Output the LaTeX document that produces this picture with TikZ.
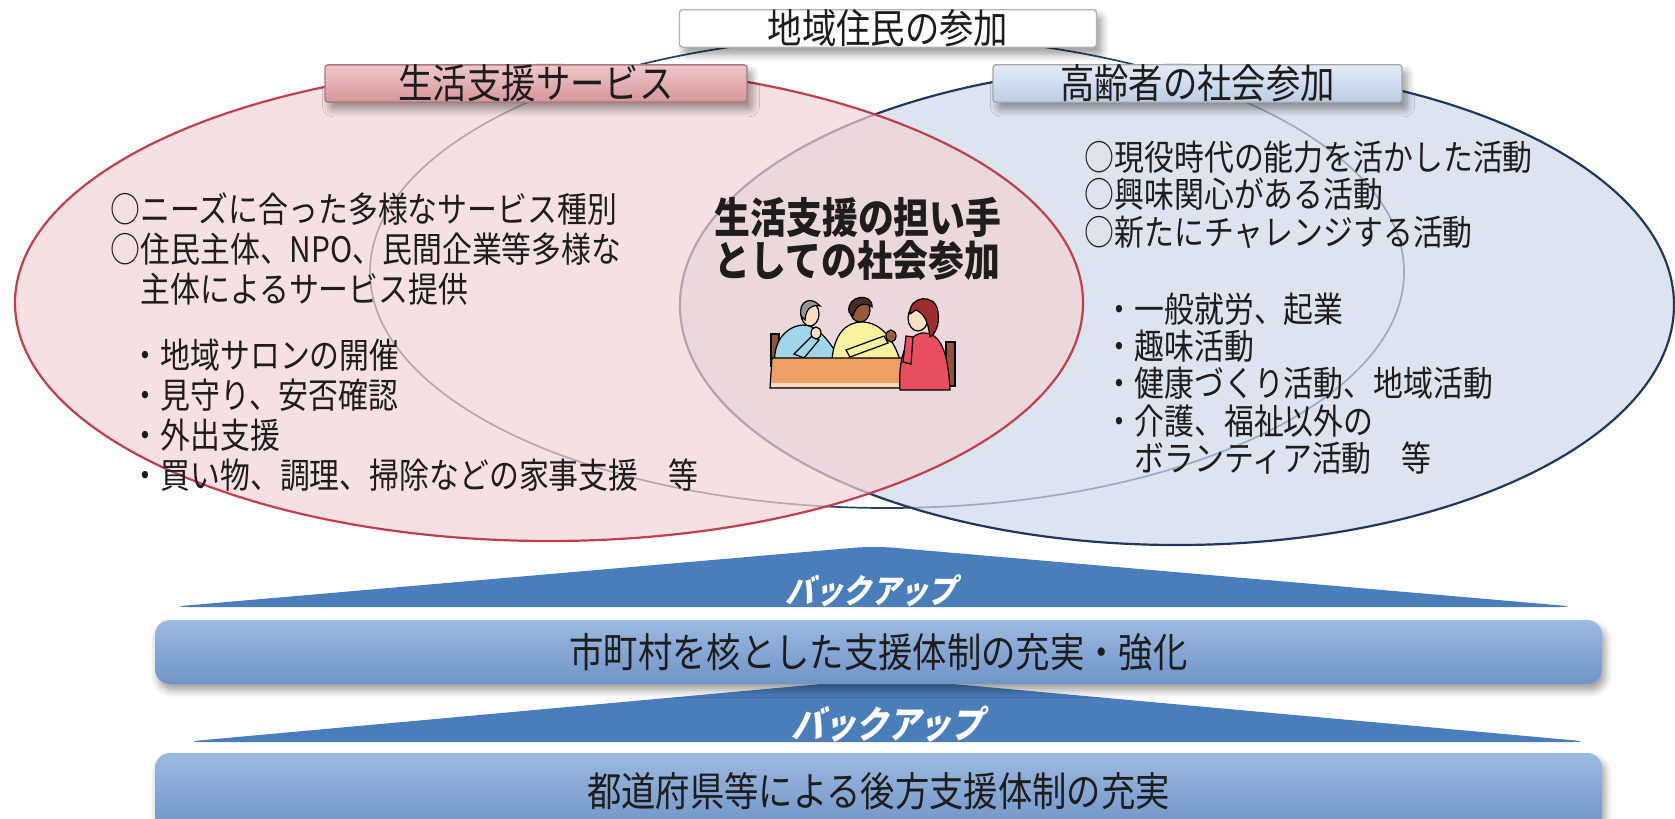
\documentclass[tikz,border=0pt]{standalone}
\usepackage{fontspec}
\setmainfont{Noto Sans CJK JP}[FakeStretch=0.85]
\newfontfamily\backupfont{Noto Sans CJK JP}[FakeStretch=0.85,FakeSlant=0.25]
\usetikzlibrary{shadows.blur}

\definecolor{svcred}{RGB}{192,62,78}
\definecolor{svcfill}{RGB}{241,212,213}
\definecolor{eldblue}{RGB}{31,56,96}
\definecolor{eldfill}{RGB}{205,216,234}
\definecolor{resline}{RGB}{40,66,100}
\definecolor{rosetop}{RGB}{238,200,201}
\definecolor{rosebot}{RGB}{214,150,154}
\definecolor{skytop}{RGB}{226,236,247}
\definecolor{skybot}{RGB}{188,206,229}
\definecolor{backup}{RGB}{74,126,187}
\definecolor{bartop}{RGB}{156,186,225}
\definecolor{barbot}{RGB}{112,148,198}
\definecolor{ink}{RGB}{30,28,28}
% colours of the little table scene
\definecolor{tableorange}{RGB}{238,160,100}
\definecolor{chairbrown}{RGB}{150,80,50}
\definecolor{shirtblue}{RGB}{160,214,234}
\definecolor{shirtyellow}{RGB}{246,242,160}
\definecolor{shirtred}{RGB}{232,78,96}
\definecolor{skin}{RGB}{250,222,196}
\definecolor{skinbrown}{RGB}{150,92,58}
\definecolor{hairgrey}{RGB}{150,150,150}
\definecolor{hairdark}{RGB}{70,45,30}
\definecolor{hairred}{RGB}{160,45,45}

\tikzset{
  venn/.style={line width=0.22mm, fill opacity=0.7},
  headbox/.style={rounded corners=0.3mm, inner sep=0pt, minimum height=3.7mm,
    text=ink, font=\fontsize{11.5}{12}\selectfont,
    blur shadow={shadow xshift=0.5mm, shadow yshift=-0.7mm, shadow blur steps=6}},
  listtext/.style={anchor=north west, align=left, inner sep=0pt, text=ink},
  barbox/.style={top color=bartop, bottom color=barbot, rounded corners=1.5mm,
    minimum width=144.7mm, inner sep=0pt, text=ink, font=\fontsize{11.5}{12}\selectfont,
    blur shadow={shadow xshift=0.3mm, shadow yshift=-0.6mm, shadow blur steps=5}},
  backuptext/.style={text=white, inner sep=0pt},
}

\begin{document}
\begin{tikzpicture}[x=0.1mm, y=-0.1mm]
\useasboundingbox (0,0) rectangle (1675,818);

% les trois ellipses
\draw[resline, line width=0.17mm] (887,272) ellipse [x radius=517, y radius=236];
\filldraw[venn, draw=eldblue, fill=eldfill] (1177,305) ellipse [x radius=497, y radius=240];
\filldraw[venn, draw=svcred, fill=svcfill] (549,303) ellipse [x radius=534, y radius=238];

% titres
\node[headbox, draw=gray!60, fill=white, minimum width=41.7mm] (resident) at (888,28.5) {地域住民の参加};
\node[headbox, draw=rosebot!80!black, top color=rosetop, bottom color=rosebot, minimum width=42.2mm] (service) at (536,83.5) {生活支援サービス};
\node[headbox, draw=gray!70, top color=skytop, bottom color=skybot, minimum width=40.9mm] (elderly) at (1197.5,83.5) {高齢者の社会参加};

% textes de gauche
\node[listtext, font=\fontsize{10}{11.4}\selectfont] (svcneeds) at (110,192)
  {○ニーズに合った多様なサービス種別\\○住民主体、NPO、民間企業等多様な\\　主体によるサービス提供};
\node[listtext, font=\fontsize{10}{11.4}\selectfont] (svcitems) at (130,338)
  {・地域サロンの開催\\・見守り、安否確認\\・外出支援\\・買い物、調理、掃除などの家事支援　等};

% texte du centre
\node[listtext, font=\bfseries\fontsize{12}{12}\selectfont] (helper) at (714,197)
  {生活支援の担い手\\としての社会参加};

% textes de droite
\node[listtext, font=\fontsize{10}{10.7}\selectfont] (eldaims) at (1084,140)
  {○現役時代の能力を活かした活動\\○興味関心がある活動\\○新たにチャレンジする活動};
\node[listtext, font=\fontsize{10}{10.6}\selectfont] (elditems) at (1104,292)
  {・一般就労、起業\\・趣味活動\\・健康づくり活動、地域活動\\・介護、福祉以外の\\　ボランティア活動　等};

% petite scene : trois personnes a table
\begin{scope}[line width=0.12mm]
% chaises
\filldraw[fill=chairbrown] (771,334) rectangle (779,366);
\filldraw[fill=chairbrown] (946,342) rectangle (955,386);
% homme en bleu
\filldraw[fill=shirtblue] (775,366) .. controls (772,342) and (786,326) .. (803,325)
  .. controls (818,325) and (830,342) .. (842,362) -- cycle;
\filldraw[fill=skin] (810,314) ellipse [x radius=9, y radius=12];
\filldraw[fill=hairgrey] (801,316) .. controls (798,300) and (812,296) .. (820,306)
  .. controls (812,304) and (806,308) .. (805,320) -- cycle;
\filldraw[fill=shirtblue] (794,354) -- (812,336) -- (819,340) -- (804,358) -- cycle;
\filldraw[fill=skin] (816,333) ellipse [x radius=5, y radius=6];
% personne en jaune
\filldraw[fill=shirtyellow] (832,360) .. controls (834,334) and (846,322) .. (862,322)
  .. controls (880,322) and (893,338) .. (900,360) -- cycle;
\filldraw[fill=skinbrown] (860,310) ellipse [x radius=10, y radius=12];
\filldraw[fill=hairdark] (849,312) .. controls (846,295) and (873,292) .. (872,307)
  .. controls (866,302) and (856,303) .. (853,316) -- cycle;
\filldraw[fill=shirtyellow] (846,350) -- (884,336) -- (888,343) -- (850,357) -- cycle;
\filldraw[fill=skinbrown] (891,336) ellipse [x radius=5, y radius=6];
% table
\filldraw[fill=tableorange] (772,358) -- (935,358) -- (938,388) -- (770,388) -- cycle;
\fill[tableorange!40] (771,383) rectangle (937,387);
% femme en rouge
\filldraw[fill=shirtred] (900,390) .. controls (898,360) and (905,336) .. (922,333)
  .. controls (940,332) and (948,350) .. (950,390) -- cycle;
\filldraw[fill=skin] (918,318) ellipse [x radius=10, y radius=13];
\filldraw[fill=hairred] (910,314) .. controls (908,296) and (936,292) .. (938,312)
  .. controls (940,325) and (935,334) .. (930,337) .. controls (928,322) and (925,314) .. (916,310) -- cycle;
\filldraw[fill=shirtred] (903,362) -- (906,336) -- (913,337) -- (911,364) -- cycle;
\end{scope}

% bandeaux du bas
\fill[backup, rounded corners=2mm] (169,607) -- (874,546) -- (1579,607) -- cycle;
\node[backuptext, font=\backupfont\bfseries\fontsize{9.5}{10}\selectfont] (backup1) at (871,591) {バックアップ};
\fill[backup, rounded corners=2mm] (182,742) -- (887,678) -- (1592,742) -- cycle;
\node[barbox, minimum height=6.4mm] (city) at (878.5,652) {市町村を核とした支援体制の充実・強化};
\node[backuptext, font=\backupfont\bfseries\fontsize{10.7}{11}\selectfont] (backup2) at (887,724) {バックアップ};
\node[barbox, minimum height=7.7mm] (pref) at (878.5,791.5) {都道府県等による後方支援体制の充実};

\end{tikzpicture}
\end{document}
